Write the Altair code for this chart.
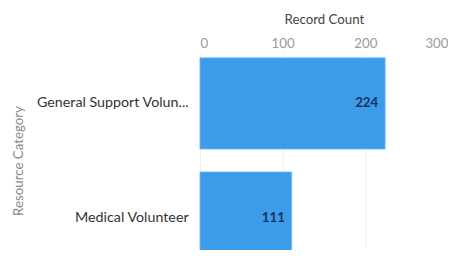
import altair as alt
import pandas as pd

categories = ["General Support Volun...", "Medical Volunteer"]
counts = [224, 111]

df = pd.DataFrame({"cat": categories, "count": counts})

base = alt.Chart(df).encode(
    y=alt.Y("cat:N", sort=categories,
            scale=alt.Scale(paddingInner=0.2, paddingOuter=0.04, range=[0, 218]),
            axis=alt.Axis(title="Resource Category", orient="left", ticks=False, domain=False,
                          labelFont="Lato", labelFontSize=14.5, labelColor="#333333",
                          labelPadding=12, labelLimit=200,
                          titleFont="Lato", titleFontSize=13.5, titleFontWeight="normal",
                          titleColor="#8a8a8a", titlePadding=11, titleY=109)),
)

bars = base.mark_bar(color="#3d9cea", stroke="#7cc0f5", strokeWidth=0.8).encode(
    x=alt.X("count:Q", scale=alt.Scale(domain=[0, 300]),
            axis=alt.Axis(title="Record Count", orient="top", values=[0, 100, 200, 300],
                          ticks=False, domain=False, labelFlush=True,
                          labelFont="Lato", labelFontSize=13.5, labelColor="#9a9a9a",
                          labelPadding=3, gridColor="#eeeeee",
                          titleFont="Lato", titleFontSize=13.5, titleFontWeight="normal",
                          titleColor="#444444", titlePadding=10)),
)

labels = base.mark_text(align="right", dx=-7, font="Lato", fontSize=13.5, fontWeight="bold",
                        color="#16325c").encode(
    x="count:Q",
    text="count:Q",
)

chart = (bars + labels).properties(
    width=252, height=198,
    autosize=alt.AutoSizeParams(type="none"),
    padding={"left": 195, "top": 44, "right": 0, "bottom": 0},
).configure_view(stroke=None)

chart.save("out.html", embed_options={"renderer": "svg", "actions": False})
